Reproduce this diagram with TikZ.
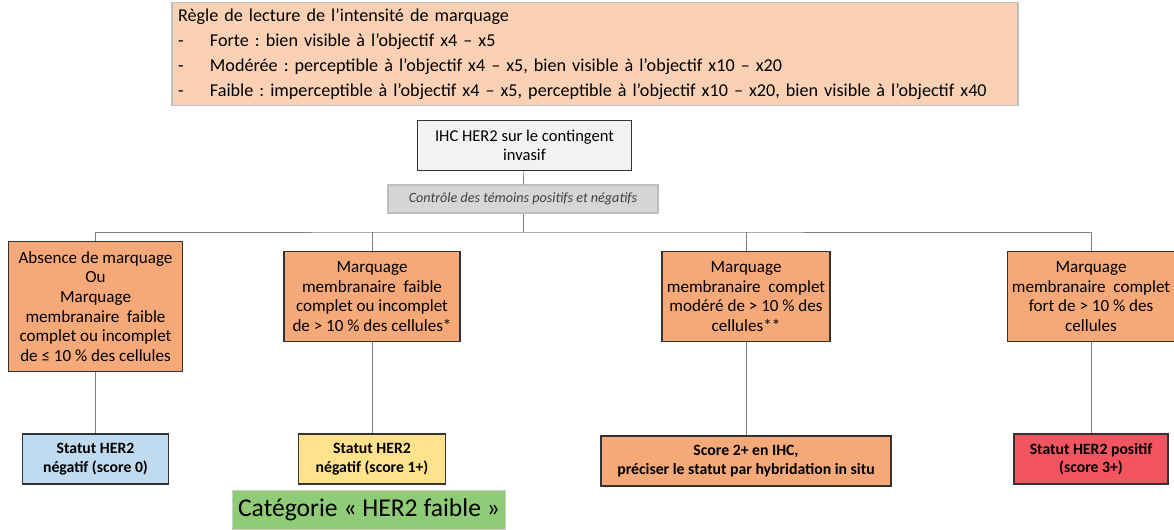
\documentclass[tikz,border=0pt]{standalone}
\usepackage{fontspec}
\setmainfont{Carlito}
\usetikzlibrary{positioning}
\definecolor{peach}{HTML}{FAD1B4}
\definecolor{mkorange}{HTML}{F5A878}
\definecolor{ihcgray}{HTML}{F2F2F2}
\definecolor{ctlgray}{HTML}{D6D6D6}
\definecolor{negblue}{HTML}{C0DAF0}
\definecolor{lowyellow}{HTML}{FFE38C}
\definecolor{posred}{HTML}{F25460}
\definecolor{catgreen}{HTML}{90CB78}
\definecolor{linkgray}{HTML}{808080}
\frenchspacing
\begin{document}
\begin{tikzpicture}[x=0.75pt, y=-0.75pt,
  box/.style={draw=black!80, line width=0.8pt, align=center, inner sep=2pt,
              font=\fontsize{12.8}{14.7}\selectfont},
  critbox/.style={box, fill=mkorange, minimum height=67pt},
  statbox/.style={box, font=\bfseries\fontsize{11.8}{14}\selectfont, minimum height=37.5pt},
  link/.style={linkgray, line width=0.6pt}]
\useasboundingbox (0,0) rectangle (1174,529);

% Reading rule for staining intensity
\node[draw=black!25, fill=peach, line width=0.8pt, align=left, inner sep=4.5pt,
      text width=625.5pt, minimum height=75pt,
      font=\fontsize{13.6}{18.6}\selectfont] (regle) at (595,54)
      {Règle de lecture de l’intensité de marquage\\
       \makebox[24pt][l]{-}Forte : bien visible à l’objectif x4 – x5\\
       \makebox[24pt][l]{-}Modérée : perceptible à l’objectif x4 – x5, bien visible à l’objectif x10 – x20\\
       \makebox[24pt][l]{-}Faible : imperceptible à l’objectif x4 – x5, perceptible à l’objectif x10 – x20, bien visible à l’objectif x40};

% IHC and controls
\node[box, fill=ihcgray, minimum width=161pt, minimum height=38pt,
      font=\fontsize{12.4}{14.7}\selectfont] (ihc) at (524.5,145.5)
      {IHC HER2 sur le contingent\\invasif};
\node[draw=black!25, fill=ctlgray, line width=0.8pt, minimum width=202.5pt, minimum height=21pt,
      font=\itshape\fontsize{10.6}{12}\selectfont, text=black!75] (controle) at (523,199)
      {Contrôle des témoins positifs et négatifs};
\coordinate (bus) at (523,232);

% Staining criteria
\node[critbox, minimum width=131pt, minimum height=97pt] (absent) at (95.5,306.5)
      {Absence de marquage\\Ou\\Marquage\\membranaire\ \ faible\\complet ou incomplet\\de ≤ 10 \% des cellules};
\node[critbox, minimum width=132pt] (faible) at (372,296.5)
      {Marquage\\membranaire\ \ faible\\complet ou incomplet\\de > 10 \% des cellules*};
\node[critbox, minimum width=126pt] (modere) at (746,296.5)
      {Marquage\\membranaire\ \ complet\\modéré de > 10 \% des\\cellules**};
\node[critbox, minimum width=125pt] (fort) at (1091,296.5)
      {Marquage\\membranaire\ \ complet\\fort de > 10 \% des\\cellules};

% HER2 status
\node[statbox, fill=negblue, minimum width=109.5pt] (zero) at (95.5,459)
      {Statut HER2\\négatif (score 0)};
\node[statbox, fill=lowyellow, minimum width=110pt] (un) at (372,459)
      {Statut HER2\\négatif (score 1+)};
\node[statbox, fill=mkorange, minimum width=217.5pt] (deux) at (746,461)
      {Score 2+ en IHC,\\préciser le statut par hybridation in situ};
\node[statbox, fill=posred, minimum width=115.5pt] (trois) at (1091,459)
      {Statut HER2 positif\\(score 3+)};
\node[draw=black!20, fill=catgreen, minimum width=205pt, minimum height=29pt,
      font=\fontsize{19.2}{22}\selectfont] (faibcat) at (369,510)
      {Catégorie « HER2 faible »};

% Connectors
\draw[link] (ihc) -- (controle);
\draw[link] (controle) -- (bus);
\draw[link] (absent.north) |- (bus) -| (fort.north);
\draw[link] (faible.north) -- (faible.north |- bus);
\draw[link] (modere.north) -- (modere.north |- bus);
\draw[link] (absent) -- (zero);
\draw[link] (faible) -- (un);
\draw[link] (modere) -- (deux);
\draw[link] (fort) -- (trois);
\end{tikzpicture}
\end{document}
